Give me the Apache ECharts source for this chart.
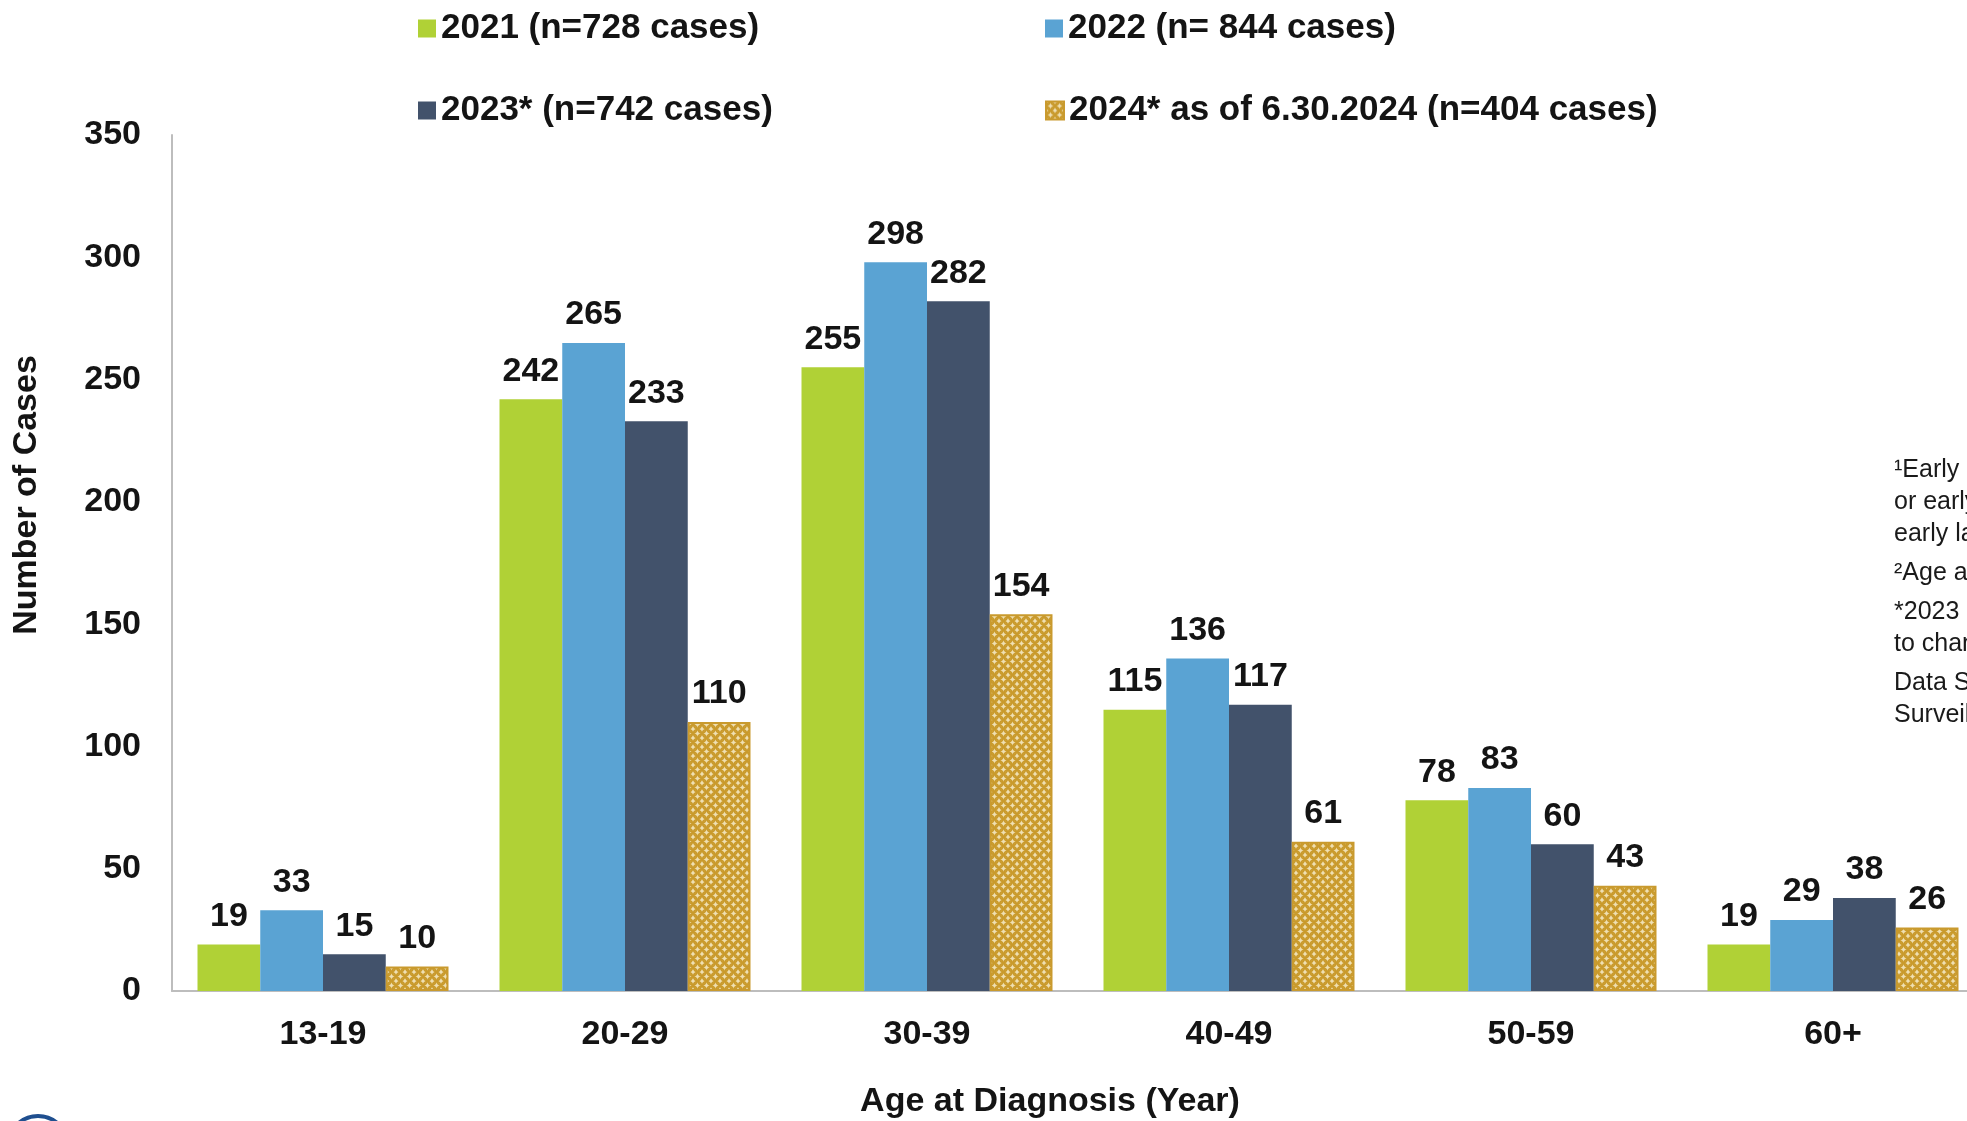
<!DOCTYPE html>
<html>
<head>
<meta charset="utf-8">
<title>Early Syphilis Cases by Age at Diagnosis</title>
<script src="https://cdn.jsdelivr.net/npm/echarts@6/dist/echarts.min.js"></script>
<style>
  html, body { margin: 0; padding: 0; background: #ffffff; }
  #chart { width: 1967px; height: 1121px; }
</style>
</head>
<body>
<div id="chart"></div>
<script>
// Age groups and yearly case counts
const ageGroups = ['13-19', '20-29', '30-39', '40-49', '50-59', '60+'];
const seriesNames = [
  '2021 (n=728 cases)',
  '2022 (n= 844 cases)',
  '2023* (n=742 cases)',
  '2024* as of 6.30.2024 (n=404 cases)'
];
const cases2021 = [19, 242, 255, 115, 78, 19];
const cases2022 = [33, 265, 298, 136, 83, 29];
const cases2023 = [15, 233, 282, 117, 60, 38];
const cases2024 = [10, 110, 154, 61, 43, 26];
const yTicks = { min: 0, max: 350, step: 50 };

const footnotes = [
  ['¹Early syphilis includes primary, secondary,', 'or early non-primary non-secondary (formerly', 'early latent) syphilis'],
  ['²Age at diagnosis'],
  ['*2023 and 2024 data are preliminary and subject', 'to change'],
  ['Data Source: Sexually Transmitted Disease', 'Surveillance System']
];

const FONT = '"Liberation Sans", Arial, Helvetica, sans-serif';

// Lattice fill used for the partial-year bars
function latticeTile() {
  const c = document.createElement('canvas');
  c.width = 9; c.height = 9;
  const g = c.getContext('2d');
  g.fillStyle = '#efdfb2';
  g.fillRect(0, 0, 9, 9);
  g.strokeStyle = '#c99a2c';
  g.lineWidth = 1.7;
  const centers = [[0, 0], [9, 0], [0, 9], [9, 9], [4.5, 4.5]];
  centers.forEach(([x, y]) => {
    g.beginPath();
    g.arc(x, y, 4, 0, Math.PI * 2);
    g.stroke();
  });
  return c;
}

const colors = ['#b0d136', '#5aa3d3', '#42526b', { image: latticeTile(), repeat: 'repeat' }];
const values = [cases2021, cases2022, cases2023, cases2024];

const chart = echarts.init(document.getElementById('chart'), null, { renderer: 'canvas' });

const labelStyle = {
  show: true,
  position: 'top',
  distance: 11,
  fontFamily: FONT,
  fontSize: 34,
  fontWeight: 'bold',
  color: '#141414'
};

const series = seriesNames.map((name, i) => ({
  name: name,
  type: 'bar',
  data: values[i],
  barWidth: 62.75,
  barGap: '0%',
  itemStyle: i === 3
    ? { color: colors[i], borderColor: '#c99a2e', borderWidth: 2 }
    : { color: colors[i] },
  label: labelStyle,
  emphasis: { disabled: true }
}));

const legendPos = [
  { left: 413, top: 6 },
  { left: 1040, top: 6 },
  { left: 413, top: 88 },
  { left: 1040, top: 88 }
];
const legends = seriesNames.map((name, i) => ({
  data: [name],
  left: legendPos[i].left,
  top: legendPos[i].top,
  icon: 'rect',
  itemWidth: 18,
  itemHeight: 18,
  itemGap: 0,
  selectedMode: false,
  textStyle: {
    fontFamily: FONT,
    fontSize: 35,
    fontWeight: 'bold',
    color: '#141414'
  }
}));

// Footnote block along the right edge
const noteElements = [];
let y = 458;
footnotes.forEach((para) => {
  para.forEach((line) => {
    noteElements.push({
      type: 'text',
      left: 1894,
      top: y,
      style: { text: line, font: '25px ' + FONT, fill: '#1a1a1a' }
    });
    y += 32;
  });
  y += 7;
});
// Corner logo ring
noteElements.push({
  type: 'circle',
  shape: { cx: 38, cy: 1146, r: 30 },
  style: { fill: 'none', stroke: '#1f4f8f', lineWidth: 4 }
});

chart.setOption({
  animation: false,
  backgroundColor: '#ffffff',
  legend: legends,
  grid: {
    left: 172, top: 135, height: 856, width: 1812,
    containLabel: false,
    outerBoundsMode: 'none'
  },
  xAxis: {
    type: 'category',
    data: ageGroups,
    axisLine: { lineStyle: { color: '#bdbdbd', width: 2 } },
    axisTick: { show: false },
    axisLabel: { fontFamily: FONT, fontSize: 34, fontWeight: 'bold', color: '#141414', margin: 27 },
    name: 'Age at Diagnosis (Year)',
    nameLocation: 'middle',
    nameGap: 94,
    nameTextStyle: { fontFamily: FONT, fontSize: 34, fontWeight: 'bold', color: '#141414', padding: [0, 56, 0, 0] }
  },
  yAxis: {
    type: 'value',
    min: yTicks.min,
    max: yTicks.max,
    interval: yTicks.step,
    axisLine: { show: true, lineStyle: { color: '#bdbdbd', width: 2 } },
    axisTick: { show: false },
    splitLine: { show: false },
    axisLabel: {
      fontFamily: FONT, fontSize: 34, fontWeight: 'bold', color: '#141414',
      margin: 31, padding: [6, 0, 0, 0]
    },
    name: 'Number of Cases',
    nameLocation: 'middle',
    nameGap: 128,
    nameTextStyle: { fontFamily: FONT, fontSize: 34, fontWeight: 'bold', color: '#141414', padding: [0, 0, 0, 136] }
  },
  series: series,
  graphic: noteElements
});
</script>
</body>
</html>
